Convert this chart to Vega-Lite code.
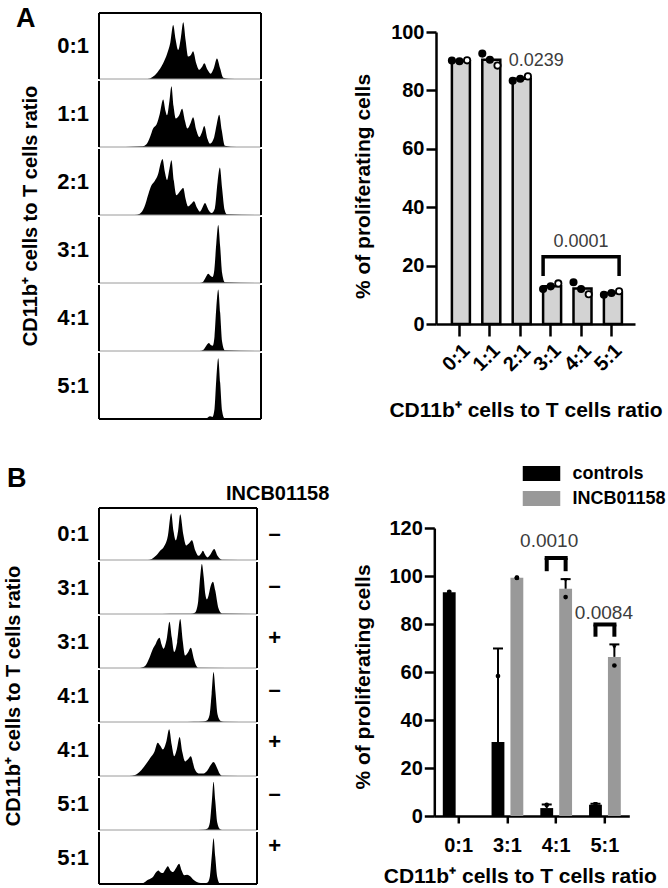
{
"$schema": "https://vega.github.io/schema/vega-lite/v6.json",
"background": "white",
"padding": {"left": 3, "top": 5, "right": 5, "bottom": 3},
"config": {
  "font": "Liberation Sans",
  "view": {"stroke": null},
  "axis": {"domainColor": "#000", "domainWidth": 2.5, "tickColor": "#000", "tickWidth": 2.5, "labelColor": "#000", "labelFontSize": 20, "labelFontWeight": "bold", "titleColor": "#000", "titleFontSize": 21, "titleFontWeight": "bold", "grid": false},
  "header": {"labelColor": "#000", "labelFontSize": 22, "labelFontWeight": "bold", "titleColor": "#000", "titleFontSize": 20, "titleFontWeight": "bold"},
  "title": {"color": "#000", "fontWeight": "bold"},
  "legend": {"labelColor": "#000"}
},
"datasets": {
  "histA": [
    {"r":"0:1","x":0,"y":0},{"r":"0:1","x":30,"y":0},{"r":"0:1","x":33,"y":3},{"r":"0:1","x":36,"y":10},{"r":"0:1","x":39.6,"y":24},{"r":"0:1","x":42,"y":38},{"r":"0:1","x":44,"y":55},{"r":"0:1","x":45.8,"y":82},{"r":"0:1","x":47.3,"y":60},{"r":"0:1","x":48.9,"y":44},{"r":"0:1","x":50.5,"y":62},{"r":"0:1","x":52,"y":86},{"r":"0:1","x":53.5,"y":58},{"r":"0:1","x":55,"y":34},{"r":"0:1","x":56.6,"y":36},{"r":"0:1","x":58.1,"y":42},{"r":"0:1","x":60,"y":24},{"r":"0:1","x":61.9,"y":14},{"r":"0:1","x":63.5,"y":18},{"r":"0:1","x":65,"y":24},{"r":"0:1","x":67,"y":14},{"r":"0:1","x":68.9,"y":8},{"r":"0:1","x":70.8,"y":16},{"r":"0:1","x":72.8,"y":31},{"r":"0:1","x":74.8,"y":16},{"r":"0:1","x":76.7,"y":2},{"r":"0:1","x":80,"y":0.5},{"r":"0:1","x":88,"y":0},{"r":"0:1","x":100,"y":0},
    {"r":"1:1","x":0,"y":0},{"r":"1:1","x":13,"y":0},{"r":"1:1","x":20,"y":0.5},{"r":"1:1","x":27,"y":1},{"r":"1:1","x":29.3,"y":4},{"r":"1:1","x":31.5,"y":15},{"r":"1:1","x":33.4,"y":28},{"r":"1:1","x":35.5,"y":34},{"r":"1:1","x":37.5,"y":50},{"r":"1:1","x":39.6,"y":72},{"r":"1:1","x":41,"y":55},{"r":"1:1","x":42,"y":48},{"r":"1:1","x":43.5,"y":70},{"r":"1:1","x":44.7,"y":92},{"r":"1:1","x":46,"y":62},{"r":"1:1","x":47.4,"y":43},{"r":"1:1","x":49.5,"y":48},{"r":"1:1","x":51.3,"y":58},{"r":"1:1","x":53,"y":40},{"r":"1:1","x":54.6,"y":28},{"r":"1:1","x":56.5,"y":36},{"r":"1:1","x":58.1,"y":45},{"r":"1:1","x":60,"y":26},{"r":"1:1","x":61.9,"y":15},{"r":"1:1","x":63.5,"y":22},{"r":"1:1","x":65,"y":32},{"r":"1:1","x":67,"y":12},{"r":"1:1","x":68.5,"y":5},{"r":"1:1","x":71,"y":14},{"r":"1:1","x":72.7,"y":35},{"r":"1:1","x":74.2,"y":49},{"r":"1:1","x":75.8,"y":25},{"r":"1:1","x":77.7,"y":2},{"r":"1:1","x":85,"y":0},{"r":"1:1","x":100,"y":0},
    {"r":"2:1","x":0,"y":0},{"r":"2:1","x":22,"y":0},{"r":"2:1","x":25.2,"y":2},{"r":"2:1","x":28,"y":12},{"r":"2:1","x":30.5,"y":32},{"r":"2:1","x":32.4,"y":45},{"r":"2:1","x":34.5,"y":52},{"r":"2:1","x":36.5,"y":62},{"r":"2:1","x":38,"y":78},{"r":"2:1","x":39.2,"y":85},{"r":"2:1","x":40.6,"y":66},{"r":"2:1","x":42,"y":53},{"r":"2:1","x":43.5,"y":70},{"r":"2:1","x":44.7,"y":83},{"r":"2:1","x":46.2,"y":52},{"r":"2:1","x":47.8,"y":30},{"r":"2:1","x":50,"y":36},{"r":"2:1","x":52,"y":41},{"r":"2:1","x":53.5,"y":24},{"r":"2:1","x":55,"y":13},{"r":"2:1","x":57,"y":17},{"r":"2:1","x":58.6,"y":21},{"r":"2:1","x":60.5,"y":11},{"r":"2:1","x":62.3,"y":5},{"r":"2:1","x":64,"y":12},{"r":"2:1","x":65.4,"y":18},{"r":"2:1","x":67.5,"y":8},{"r":"2:1","x":69.5,"y":3},{"r":"2:1","x":71.5,"y":10},{"r":"2:1","x":73.2,"y":50},{"r":"2:1","x":74.6,"y":72},{"r":"2:1","x":76,"y":40},{"r":"2:1","x":77.5,"y":8},{"r":"2:1","x":79,"y":1},{"r":"2:1","x":100,"y":0},
    {"r":"3:1","x":0,"y":0},{"r":"3:1","x":62,"y":0},{"r":"3:1","x":64.3,"y":2},{"r":"3:1","x":66,"y":9},{"r":"3:1","x":67.4,"y":14},{"r":"3:1","x":68.8,"y":11},{"r":"3:1","x":70.1,"y":9},{"r":"3:1","x":71.2,"y":20},{"r":"3:1","x":72.4,"y":60},{"r":"3:1","x":73.6,"y":88},{"r":"3:1","x":74.8,"y":55},{"r":"3:1","x":76,"y":15},{"r":"3:1","x":77.7,"y":1},{"r":"3:1","x":100,"y":0},
    {"r":"4:1","x":0,"y":0},{"r":"4:1","x":62,"y":0},{"r":"4:1","x":64.5,"y":2},{"r":"4:1","x":66.5,"y":9},{"r":"4:1","x":67.8,"y":12},{"r":"4:1","x":69,"y":9},{"r":"4:1","x":70.2,"y":8},{"r":"4:1","x":71.3,"y":22},{"r":"4:1","x":72.4,"y":65},{"r":"4:1","x":73.6,"y":93},{"r":"4:1","x":74.8,"y":58},{"r":"4:1","x":76,"y":14},{"r":"4:1","x":77.7,"y":1},{"r":"4:1","x":100,"y":0},
    {"r":"5:1","x":0,"y":0},{"r":"5:1","x":64,"y":0},{"r":"5:1","x":66.5,"y":1},{"r":"5:1","x":68.5,"y":4},{"r":"5:1","x":70,"y":3},{"r":"5:1","x":71.3,"y":15},{"r":"5:1","x":72.4,"y":60},{"r":"5:1","x":73.6,"y":92},{"r":"5:1","x":74.8,"y":55},{"r":"5:1","x":76,"y":12},{"r":"5:1","x":77.5,"y":1},{"r":"5:1","x":100,"y":0}
  ],
  "histB": [
    {"r":"0:1 –","x":0,"y":0},{"r":"0:1 –","x":31,"y":0},{"r":"0:1 –","x":33.4,"y":2},{"r":"0:1 –","x":36,"y":8},{"r":"0:1 –","x":38.7,"y":18},{"r":"0:1 –","x":41,"y":25},{"r":"0:1 –","x":43.5,"y":45},{"r":"0:1 –","x":45.7,"y":90},{"r":"0:1 –","x":47.2,"y":55},{"r":"0:1 –","x":48.6,"y":38},{"r":"0:1 –","x":50,"y":55},{"r":"0:1 –","x":51.4,"y":88},{"r":"0:1 –","x":53.3,"y":50},{"r":"0:1 –","x":55.2,"y":28},{"r":"0:1 –","x":57,"y":32},{"r":"0:1 –","x":58.8,"y":38},{"r":"0:1 –","x":61,"y":18},{"r":"0:1 –","x":63,"y":8},{"r":"0:1 –","x":64.5,"y":12},{"r":"0:1 –","x":65.8,"y":18},{"r":"0:1 –","x":67.2,"y":10},{"r":"0:1 –","x":68.7,"y":5},{"r":"0:1 –","x":70.8,"y":12},{"r":"0:1 –","x":72.9,"y":21},{"r":"0:1 –","x":75,"y":8},{"r":"0:1 –","x":77.8,"y":0.5},{"r":"0:1 –","x":100,"y":0},
    {"r":"3:1 –","x":0,"y":0},{"r":"3:1 –","x":35,"y":0},{"r":"3:1 –","x":45,"y":0.5},{"r":"3:1 –","x":58,"y":0.5},{"r":"3:1 –","x":60.9,"y":3},{"r":"3:1 –","x":62.8,"y":25},{"r":"3:1 –","x":64,"y":70},{"r":"3:1 –","x":65.1,"y":96},{"r":"3:1 –","x":66.3,"y":70},{"r":"3:1 –","x":67.3,"y":38},{"r":"3:1 –","x":68.3,"y":28},{"r":"3:1 –","x":69.3,"y":35},{"r":"3:1 –","x":70.5,"y":52},{"r":"3:1 –","x":72.1,"y":62},{"r":"3:1 –","x":73.6,"y":45},{"r":"3:1 –","x":75.5,"y":12},{"r":"3:1 –","x":77.8,"y":1},{"r":"3:1 –","x":100,"y":0},
    {"r":"3:1 +","x":0,"y":0},{"r":"3:1 +","x":25,"y":0},{"r":"3:1 +","x":29.2,"y":4},{"r":"3:1 +","x":32,"y":20},{"r":"3:1 +","x":34,"y":36},{"r":"3:1 +","x":35.5,"y":44},{"r":"3:1 +","x":37,"y":54},{"r":"3:1 +","x":38.3,"y":58},{"r":"3:1 +","x":39.6,"y":45},{"r":"3:1 +","x":40.8,"y":37},{"r":"3:1 +","x":42.8,"y":55},{"r":"3:1 +","x":44.6,"y":89},{"r":"3:1 +","x":46.1,"y":58},{"r":"3:1 +","x":47.6,"y":31},{"r":"3:1 +","x":49.5,"y":50},{"r":"3:1 +","x":51.4,"y":94},{"r":"3:1 +","x":53,"y":52},{"r":"3:1 +","x":54.5,"y":24},{"r":"3:1 +","x":56.3,"y":30},{"r":"3:1 +","x":58.1,"y":39},{"r":"3:1 +","x":60,"y":18},{"r":"3:1 +","x":61.5,"y":5},{"r":"3:1 +","x":63,"y":0.5},{"r":"3:1 +","x":100,"y":0},
    {"r":"4:1 –","x":0,"y":0},{"r":"4:1 –","x":52,"y":0},{"r":"4:1 –","x":60,"y":0.5},{"r":"4:1 –","x":66,"y":1},{"r":"4:1 –","x":68.3,"y":3},{"r":"4:1 –","x":70,"y":14},{"r":"4:1 –","x":71.3,"y":55},{"r":"4:1 –","x":72.5,"y":96},{"r":"4:1 –","x":73.7,"y":58},{"r":"4:1 –","x":75,"y":15},{"r":"4:1 –","x":77,"y":2},{"r":"4:1 –","x":79,"y":0.5},{"r":"4:1 –","x":100,"y":0},
    {"r":"4:1 +","x":0,"y":0},{"r":"4:1 +","x":19,"y":0},{"r":"4:1 +","x":22.8,"y":2},{"r":"4:1 +","x":27,"y":12},{"r":"4:1 +","x":30,"y":24},{"r":"4:1 +","x":32.3,"y":34},{"r":"4:1 +","x":35,"y":46},{"r":"4:1 +","x":37.2,"y":64},{"r":"4:1 +","x":38.8,"y":58},{"r":"4:1 +","x":40.4,"y":51},{"r":"4:1 +","x":42.5,"y":65},{"r":"4:1 +","x":44.4,"y":90},{"r":"4:1 +","x":46,"y":60},{"r":"4:1 +","x":47.6,"y":38},{"r":"4:1 +","x":49.3,"y":52},{"r":"4:1 +","x":51,"y":75},{"r":"4:1 +","x":52.8,"y":45},{"r":"4:1 +","x":54.5,"y":28},{"r":"4:1 +","x":56.3,"y":32},{"r":"4:1 +","x":58.1,"y":38},{"r":"4:1 +","x":60.5,"y":14},{"r":"4:1 +","x":63,"y":5},{"r":"4:1 +","x":66.2,"y":5},{"r":"4:1 +","x":68.5,"y":10},{"r":"4:1 +","x":70.5,"y":20},{"r":"4:1 +","x":72.5,"y":27},{"r":"4:1 +","x":74.5,"y":17},{"r":"4:1 +","x":76.5,"y":4},{"r":"4:1 +","x":78,"y":0.5},{"r":"4:1 +","x":100,"y":0},
    {"r":"5:1 –","x":0,"y":0},{"r":"5:1 –","x":60,"y":0},{"r":"5:1 –","x":66,"y":0.5},{"r":"5:1 –","x":68.7,"y":3},{"r":"5:1 –","x":70.2,"y":15},{"r":"5:1 –","x":71.4,"y":55},{"r":"5:1 –","x":72.5,"y":93},{"r":"5:1 –","x":73.6,"y":56},{"r":"5:1 –","x":74.8,"y":15},{"r":"5:1 –","x":76.5,"y":2},{"r":"5:1 –","x":78,"y":0},{"r":"5:1 –","x":100,"y":0},
    {"r":"5:1 +","x":0,"y":0},{"r":"5:1 +","x":24,"y":0},{"r":"5:1 +","x":28.1,"y":2},{"r":"5:1 +","x":31,"y":8},{"r":"5:1 +","x":34.5,"y":15},{"r":"5:1 +","x":36,"y":22},{"r":"5:1 +","x":37.6,"y":26},{"r":"5:1 +","x":39,"y":22},{"r":"5:1 +","x":40.4,"y":21},{"r":"5:1 +","x":42,"y":28},{"r":"5:1 +","x":43.6,"y":34},{"r":"5:1 +","x":45.2,"y":26},{"r":"5:1 +","x":46.7,"y":23},{"r":"5:1 +","x":48.8,"y":31},{"r":"5:1 +","x":50.7,"y":39},{"r":"5:1 +","x":52.3,"y":26},{"r":"5:1 +","x":53.9,"y":17},{"r":"5:1 +","x":55.8,"y":18},{"r":"5:1 +","x":57.7,"y":15},{"r":"5:1 +","x":59.8,"y":8},{"r":"5:1 +","x":61.9,"y":4},{"r":"5:1 +","x":64.5,"y":2},{"r":"5:1 +","x":66.5,"y":1},{"r":"5:1 +","x":68.7,"y":3},{"r":"5:1 +","x":70.2,"y":15},{"r":"5:1 +","x":71.4,"y":55},{"r":"5:1 +","x":72.5,"y":88},{"r":"5:1 +","x":73.6,"y":52},{"r":"5:1 +","x":74.8,"y":14},{"r":"5:1 +","x":76.5,"y":1},{"r":"5:1 +","x":78,"y":0},{"r":"5:1 +","x":100,"y":0}
  ],
  "signs": [
    {"k":"0:1 –","s":"–"},{"k":"3:1 –","s":"–"},{"k":"3:1 +","s":"+"},{"k":"4:1 –","s":"–"},{"k":"4:1 +","s":"+"},{"k":"5:1 –","s":"–"},{"k":"5:1 +","s":"+"}
  ],
  "barA": [
    {"ratio":"0:1","mean":90.1},{"ratio":"1:1","mean":90.5},{"ratio":"2:1","mean":84.0},{"ratio":"3:1","mean":12.9},{"ratio":"4:1","mean":12.2},{"ratio":"5:1","mean":10.6}
  ],
  "ptsA": [
    {"ratio":"0:1","rep":"1","v":90.2},{"ratio":"0:1","rep":"2","v":90.0},{"ratio":"0:1","rep":"3","v":90.3},
    {"ratio":"1:1","rep":"1","v":92.6},{"ratio":"1:1","rep":"2","v":90.5},{"ratio":"1:1","rep":"3","v":88.5},
    {"ratio":"2:1","rep":"1","v":83.3},{"ratio":"2:1","rep":"2","v":84.0},{"ratio":"2:1","rep":"3","v":84.8},
    {"ratio":"3:1","rep":"1","v":12.0},{"ratio":"3:1","rep":"2","v":12.9},{"ratio":"3:1","rep":"3","v":13.9},
    {"ratio":"4:1","rep":"1","v":14.3},{"ratio":"4:1","rep":"2","v":12.0},{"ratio":"4:1","rep":"3","v":10.2},
    {"ratio":"5:1","rep":"1","v":10.0},{"ratio":"5:1","rep":"2","v":10.6},{"ratio":"5:1","rep":"3","v":11.2}
  ],
  "brA": [
    {"ratio":"3:1","rep":"1","v":17,"o":1},{"ratio":"3:1","rep":"1","v":23,"o":2},{"ratio":"5:1","rep":"3","v":23,"o":3},{"ratio":"5:1","rep":"3","v":17,"o":4}
  ],
  "barB": [
    {"ratio":"0:1","g":"controls","mean":93.2},
    {"ratio":"3:1","g":"controls","mean":30.8,"hi":69.8},
    {"ratio":"3:1","g":"INCB01158","mean":99.3},
    {"ratio":"4:1","g":"controls","mean":3.3,"hi":4.8},
    {"ratio":"4:1","g":"INCB01158","mean":94.7,"hi":98.7},
    {"ratio":"5:1","g":"controls","mean":4.7,"hi":5.1},
    {"ratio":"5:1","g":"INCB01158","mean":66.3,"hi":71.5}
  ],
  "ptsB": [
    {"ratio":"0:1","g":"controls","rep":"1","v":93.4},{"ratio":"0:1","g":"controls","rep":"2","v":93.0},
    {"ratio":"3:1","g":"controls","rep":"1","v":58.3},{"ratio":"3:1","g":"controls","rep":"2","v":3.3},
    {"ratio":"3:1","g":"INCB01158","rep":"1","v":99.3},{"ratio":"3:1","g":"INCB01158","rep":"1","v":99.2},
    {"ratio":"4:1","g":"controls","rep":"1","v":4.6},{"ratio":"4:1","g":"controls","rep":"2","v":2.0},
    {"ratio":"4:1","g":"INCB01158","rep":"1","v":91.2},{"ratio":"4:1","g":"INCB01158","rep":"2","v":98.2},
    {"ratio":"5:1","g":"controls","rep":"1","v":4.5},{"ratio":"5:1","g":"controls","rep":"2","v":5.0},
    {"ratio":"5:1","g":"INCB01158","rep":"1","v":62.7},{"ratio":"5:1","g":"INCB01158","rep":"2","v":70.3}
  ],
  "brB": [
    {"ratio":"4:1","g":"controls","lo":102,"hi":107.5},{"ratio":"4:1","g":"INCB01158","lo":102,"hi":107.5},
    {"ratio":"5:1","g":"controls","lo":74.7,"hi":79.8},{"ratio":"5:1","g":"INCB01158","lo":74.7,"hi":79.8}
  ],
  "brBtop": [
    {"ratio":"4:1","hi":107.5},{"ratio":"5:1","hi":79.8}
  ]
},
"bounds": "flush",
"spacing": 495,
"resolve": {"scale": {"xOffset": "independent"}},
"vconcat": [
  {
    "bounds": "flush",
    "spacing": 337,
    "resolve": {"scale": {"xOffset": "independent"}},
    "hconcat": [
      {
        "data": {"name": "histA"},
        "title": {"text": "A", "anchor": "start", "frame": "bounds", "fontSize": 27, "baseline": "alphabetic", "offset": -42, "dx": -5},
        "facet": {"row": {"field": "r", "type": "ordinal", "sort": ["0:1","1:1","2:1","3:1","4:1","5:1"], "title": "CD11b⁺ cells to T cells ratio",
          "header": {"labelAngle": 0, "labelAlign": "left", "labelBaseline": "middle", "labelPadding": 9, "titlePadding": 6}}},
        "spacing": {"row": 0},
        "spec": {
          "width": 162, "height": 66,
          "layer": [
            {"mark": {"type": "area", "interpolate": "monotone", "color": "#000"},
             "encoding": {"x": {"field": "x", "type": "quantitative", "scale": {"domain": [0, 100]}, "axis": null},
                          "y": {"field": "y", "type": "quantitative", "scale": {"domain": [0, 100]}, "axis": null}}},
            {"transform": [{"aggregate": [{"op": "count", "as": "n"}], "groupby": ["r"]}],
             "mark": {"type": "rule", "color": "#9a9a9a", "strokeWidth": 1}, "encoding": {"y": {"datum": 0}}},
            {"transform": [{"aggregate": [{"op": "count", "as": "n"}], "groupby": ["r"]}],
             "mark": {"type": "rule", "color": "#000", "strokeWidth": 2}, "encoding": {"x": {"datum": 0}}},
            {"transform": [{"aggregate": [{"op": "count", "as": "n"}], "groupby": ["r"]}],
             "mark": {"type": "rule", "color": "#000", "strokeWidth": 2}, "encoding": {"x": {"datum": 100}}},
            {"transform": [{"filter": "datum.r === '0:1'"}, {"aggregate": [{"op": "count", "as": "n"}], "groupby": ["r"]}],
             "mark": {"type": "rule", "color": "#000", "strokeWidth": 2}, "encoding": {"y": {"datum": 100}}},
            {"transform": [{"filter": "datum.r === '5:1'"}, {"aggregate": [{"op": "count", "as": "n"}], "groupby": ["r"]}],
             "mark": {"type": "rule", "color": "#000", "strokeWidth": 2}, "encoding": {"y": {"datum": 0}}}
          ]
        }
      },
      {
        "width": 199, "height": 311,
        "encoding": {"x": {"field": "ratio", "type": "nominal", "sort": ["0:1","1:1","2:1","3:1","4:1","5:1"], "scale": {"type": "band", "paddingInner": 0.5, "paddingOuter": 0.523},
          "axis": {"labelAngle": -45, "tickSize": 12, "labelPadding": 4, "titlePadding": 25, "titleX": 89.5}, "title": "CD11b⁺ cells to T cells ratio"}},
        "layer": [
          {"data": {"name": "barA"}, "mark": {"type": "bar", "fill": "#d3d3d3", "stroke": "#000", "strokeWidth": 2.5},
           "encoding": {"y": {"field": "mean", "type": "quantitative", "scale": {"domain": [0, 100], "range": [311, 19], "nice": false},
             "axis": {"values": [0, 20, 40, 60, 80, 100], "tickSize": 10, "labelPadding": 2, "titlePadding": 17, "titleY": 173}, "title": "% of proliferating cells"}}},
          {"data": {"name": "ptsA"}, "mark": {"type": "point", "shape": "circle", "filled": true, "size": 40, "stroke": "#000", "strokeWidth": 1.8, "opacity": 1},
           "encoding": {"xOffset": {"field": "rep", "type": "nominal", "scale": {"paddingInner": 0, "paddingOuter": 0}},
             "y": {"field": "v", "type": "quantitative", "title": "% of proliferating cells"},
             "fill": {"field": "rep", "type": "nominal", "scale": {"domain": ["1","2","3"], "range": ["#000000","#000000","#ffffff"]}, "legend": null}}},
          {"data": {"name": "brA"}, "mark": {"type": "line", "color": "#000", "strokeWidth": 3.5, "strokeCap": "square", "strokeJoin": "miter"},
           "encoding": {"xOffset": {"field": "rep", "type": "nominal"}, "y": {"field": "v", "type": "quantitative", "title": "% of proliferating cells"}, "order": {"field": "o", "type": "quantitative"}}},
          {"data": {"values": [{"ratio": "2:1", "v": 90.1, "t": "0.0239"}]}, "mark": {"type": "text", "align": "center", "baseline": "middle", "dx": 16, "fontSize": 18, "color": "#3c3c3c"},
           "encoding": {"y": {"field": "v", "type": "quantitative", "title": "% of proliferating cells"}, "text": {"field": "t"}}},
          {"data": {"values": [{"ratio": "4:1", "v": 28.1, "t": "0.0001"}]}, "mark": {"type": "text", "align": "center", "baseline": "middle", "fontSize": 18, "color": "#3c3c3c"},
           "encoding": {"y": {"field": "v", "type": "quantitative", "title": "% of proliferating cells"}, "text": {"field": "t"}}}
        ]
      }
    ]
  },
  {
    "bounds": "flush",
    "spacing": 157.65,
    "resolve": {"scale": {"xOffset": "independent"}},
    "hconcat": [
      {
        "data": {"name": "histB"},
        "title": {"text": "B", "anchor": "start", "frame": "bounds", "fontSize": 27, "baseline": "alphabetic", "offset": -7, "dx": 3},
        "facet": {"row": {"field": "r", "type": "ordinal", "sort": ["0:1 –","3:1 –","3:1 +","4:1 –","4:1 +","5:1 –","5:1 +"], "title": "CD11b⁺ cells to T cells ratio",
          "header": {"labelAngle": 0, "labelAlign": "left", "labelBaseline": "middle", "labelPadding": 9, "titlePadding": 23, "labelExpr": "split(datum.value, ' ')[0]"}}},
        "spacing": {"row": 0},
        "spec": {
          "width": 158, "height": 52,
          "layer": [
            {"mark": {"type": "area", "interpolate": "monotone", "color": "#000"},
             "encoding": {"x": {"field": "x", "type": "quantitative", "scale": {"domain": [0, 100]}, "axis": null},
                          "y": {"field": "y", "type": "quantitative", "scale": {"domain": [0, 100]}, "axis": null}}},
            {"transform": [{"aggregate": [{"op": "count", "as": "n"}], "groupby": ["r"]}],
             "mark": {"type": "rule", "color": "#9a9a9a", "strokeWidth": 1}, "encoding": {"y": {"datum": 0}}},
            {"transform": [{"aggregate": [{"op": "count", "as": "n"}], "groupby": ["r"]}],
             "mark": {"type": "rule", "color": "#000", "strokeWidth": 2}, "encoding": {"x": {"datum": 0}}},
            {"transform": [{"aggregate": [{"op": "count", "as": "n"}], "groupby": ["r"]}],
             "mark": {"type": "rule", "color": "#000", "strokeWidth": 2}, "encoding": {"x": {"datum": 100}}},
            {"transform": [{"filter": "datum.r === '0:1 –'"}, {"aggregate": [{"op": "count", "as": "n"}], "groupby": ["r"]}],
             "mark": {"type": "rule", "color": "#000", "strokeWidth": 2}, "encoding": {"y": {"datum": 100}}},
            {"transform": [{"filter": "datum.r === '5:1 +'"}, {"aggregate": [{"op": "count", "as": "n"}], "groupby": ["r"]}],
             "mark": {"type": "rule", "color": "#000", "strokeWidth": 2}, "encoding": {"y": {"datum": 0}}}
          ]
        }
      },
      {
        "data": {"name": "signs"},
        "width": 20, "height": 364,
        "title": {"text": "INCB01158", "fontSize": 20, "offset": 4, "dx": 11},
        "mark": {"type": "text", "fontSize": 22, "fontWeight": "bold", "color": "#000", "dx": 8},
        "encoding": {"y": {"field": "k", "type": "nominal", "sort": ["0:1 –","3:1 –","3:1 +","4:1 –","4:1 +","5:1 –","5:1 +"], "axis": null}, "text": {"field": "s"}}
      },
      {
        "width": 195, "height": 308,
        "encoding": {"x": {"field": "ratio", "type": "nominal", "sort": ["0:1","3:1","4:1","5:1"], "scale": {"type": "band", "paddingInner": 0, "paddingOuter": 0},
          "axis": {"labelAngle": 0, "tickSize": 7, "labelPadding": 12, "titlePadding": 10, "titleX": 85.5}, "title": "CD11b⁺ cells to T cells ratio"}},
        "layer": [
          {"data": {"name": "barB"}, "mark": {"type": "bar"},
           "encoding": {
             "xOffset": {"field": "g", "type": "nominal", "sort": ["controls","INCB01158"], "scale": {"type": "band", "paddingInner": 0.32, "paddingOuter": 0.45}},
             "y": {"field": "mean", "type": "quantitative", "scale": {"domain": [0, 120], "range": [308, 20], "nice": false},
               "axis": {"values": [0,10,20,30,40,50,60,70,80,90,100,110,120], "labelExpr": "datum.value % 20 === 0 ? datum.label : ''",
                 "tickSize": {"condition": {"test": "datum.value % 20 === 0", "value": 10}, "value": 5}, "labelPadding": 2, "titlePadding": 15, "titleY": 168.5},
               "title": "% of proliferating cells"},
             "color": {"field": "g", "type": "nominal", "scale": {"domain": ["controls","INCB01158"], "range": ["#000000","#999999"]},
               "legend": {"orient": "none", "legendX": 427.5, "legendY": 445.5, "title": null, "symbolType": "M-1.25,-0.5H1.25V0.5H-1.25Z", "symbolSize": 900, "symbolStrokeWidth": 0, "symbolOpacity": 1, "labelFontSize": 18, "labelFontWeight": "bold", "labelOffset": 16, "rowPadding": 1, "direction": "vertical"}}}},
          {"data": {"name": "barB"}, "transform": [{"filter": "isValid(datum.hi)"}], "mark": {"type": "rule", "color": "#000", "strokeWidth": 2},
           "encoding": {"xOffset": {"field": "g", "type": "nominal", "sort": ["controls","INCB01158"]}, "y": {"field": "mean", "type": "quantitative", "title": "% of proliferating cells"}, "y2": {"field": "hi"}}},
          {"data": {"name": "barB"}, "transform": [{"filter": "isValid(datum.hi)"}], "mark": {"type": "tick", "color": "#000", "thickness": 2, "size": 10, "orient": "horizontal", "opacity": 1},
           "encoding": {"xOffset": {"field": "g", "type": "nominal", "sort": ["controls","INCB01158"]}, "y": {"field": "hi", "type": "quantitative", "title": "% of proliferating cells"}}},
          {"data": {"name": "ptsB"}, "mark": {"type": "point", "filled": true, "color": "#000", "size": 22, "opacity": 1},
           "encoding": {"xOffset": {"field": "g", "type": "nominal", "sort": ["controls","INCB01158"]}, "y": {"field": "v", "type": "quantitative", "title": "% of proliferating cells"},
             "shape": {"field": "rep", "type": "nominal", "scale": {"domain": ["1","2"], "range": ["circle","triangle-down"]}, "legend": null}}},
          {"data": {"name": "brB"}, "mark": {"type": "rule", "color": "#000", "strokeWidth": 4},
           "encoding": {"xOffset": {"field": "g", "type": "nominal", "sort": ["controls","INCB01158"]}, "y": {"field": "lo", "type": "quantitative", "title": "% of proliferating cells"}, "y2": {"field": "hi"}}},
          {"data": {"name": "brBtop"}, "mark": {"type": "tick", "color": "#000", "thickness": 4, "size": 23, "orient": "horizontal", "opacity": 1},
           "encoding": {"y": {"field": "hi", "type": "quantitative", "title": "% of proliferating cells"}}},
          {"data": {"values": [{"ratio": "4:1", "v": 114.5, "t": "0.0010"}]}, "mark": {"type": "text", "align": "center", "baseline": "middle", "dx": -7, "fontSize": 19, "color": "#3c3c3c"},
           "encoding": {"y": {"field": "v", "type": "quantitative", "title": "% of proliferating cells"}, "text": {"field": "t"}}},
          {"data": {"values": [{"ratio": "5:1", "v": 84.5, "t": "0.0084"}]}, "mark": {"type": "text", "align": "center", "baseline": "middle", "dx": -1, "fontSize": 19, "color": "#3c3c3c"},
           "encoding": {"y": {"field": "v", "type": "quantitative", "title": "% of proliferating cells"}, "text": {"field": "t"}}}
        ]
      }
    ]
  }
]
}
